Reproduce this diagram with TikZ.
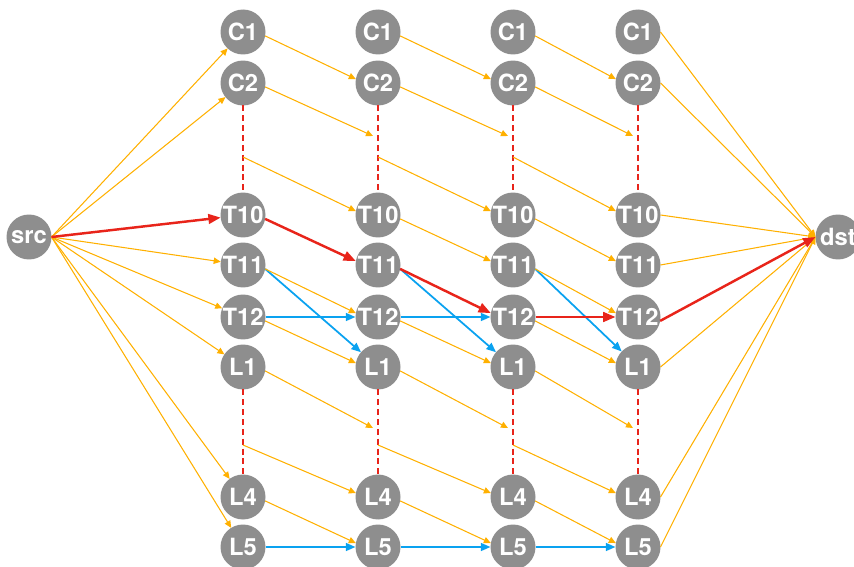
\documentclass[tikz,border=0pt]{standalone}
\usepackage{fontspec}
\setmainfont{TeX Gyre Heros}
\usepackage{xcolor}
\usepackage{tikz}
\usetikzlibrary{arrows.meta}

\definecolor{hopgray}{HTML}{8E8E8E}
\definecolor{linkorange}{HTML}{FFB000}
\definecolor{linkblue}{HTML}{0AA2F0}
\definecolor{linkred}{HTML}{E8241A}

\tikzset{
        hop/.style={circle, fill=hopgray, text=white, minimum size=0.9cm, inner sep=0pt, outer sep=0pt,
                font=\fontsize{13.5}{15}\selectfont\bfseries},
        olink/.style={draw=linkorange, line width=0.6pt, -{Triangle[length=4pt,width=3.6pt]}},
        blink/.style={draw=linkblue, line width=1pt, -{Triangle[length=5.5pt,width=4.5pt]}},
        rlink/.style={draw=linkred, line width=1.4pt, -{Triangle[length=7pt,width=5.5pt]}},
        gap/.style={draw=linkred, line width=1.1pt, dash pattern=on 3.4pt off 2.2pt}
}

\begin{document}
\begin{tikzpicture}[x=0.02cm, y=-0.02cm]
        \useasboundingbox (0,0) rectangle (854,567);
        \node[hop] (src) at (29,237) {src};
        \node[hop] (dst) at (838,237) {dst};
        \foreach \col/\x in {1/243,2/378,3/513,4/638} {
                \foreach \lab/\y in {C1/32,C2/83,T10/215,T11/265,T12/317,L1/367,L4/497,L5/547}
                        \node[hop] (\lab-\col) at (\x,\y) {\lab};
                \draw[gap] (C2-\col) -- (T10-\col);
                \draw[gap] (L1-\col) -- (L4-\col);
                \coordinate (upin-\col) at (\x-5,136);
                \coordinate (upout-\col) at (\x,157);
                \coordinate (lowin-\col) at (\x-5,428);
                \coordinate (lowout-\col) at (\x,445);
        }
        \foreach \lab in {C1,C2,T11,T12,L1,L4,L5}
                \draw[olink] (src.east) -- (\lab-1);
        \foreach \a/\b in {1/2,2/3,3/4} {
                \draw[olink] (C1-\a.-10) -- (C2-\b.170);
                \draw[olink] (C2-\a.-10) -- (upin-\b);
                \draw[olink] (upout-\a) -- (T10-\b.170);
                \draw[olink] (T12-\a.-10) -- (L1-\b.170);
                \draw[olink] (L1-\a.-10) -- (lowin-\b);
                \draw[olink] (lowout-\a) -- (L4-\b.170);
                \draw[olink] (L4-\a.-10) -- (L5-\b.170);
                \draw[blink] (T11-\a.-10) -- (L1-\b);
                \draw[blink] (L5-\a) -- (L5-\b);
        }
        \draw[olink] (T11-1.-10) -- (T12-2.170);
        \draw[olink] (T10-2.-10) -- (T11-3.170);
        \draw[olink] (T10-3.-10) -- (T11-4.170);
        \draw[olink] (T11-3.-10) -- (T12-4.170);
        \draw[blink] (T12-1) -- (T12-2);
        \draw[blink] (T12-2) -- (T12-3);
        \foreach \lab in {C1,C2,T10,T11,L1,L4,L5}
                \draw[olink] (\lab-4.east) -- (dst.west);
        \draw[rlink] (src.east) -- (T10-1);
        \draw[rlink] (T10-1.-10) -- (T11-2.170);
        \draw[rlink] (T11-2.-10) -- (T12-3.170);
        \draw[rlink] (T12-3) -- (T12-4);
        \draw[rlink] (T12-4.-10) -- (dst.west);
\end{tikzpicture}
\end{document}
